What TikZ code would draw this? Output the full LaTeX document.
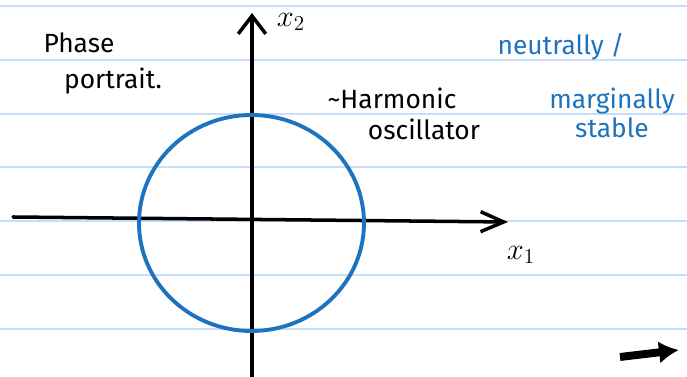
\documentclass[tikz,border=0pt]{standalone}
\usepackage{fontspec}
\setmainfont{Fira Sans}
\usetikzlibrary{arrows.meta}

\definecolor{penblue}{RGB}{30,115,190}
\definecolor{ruleblue}{RGB}{200,221,250}

\begin{document}
\begin{tikzpicture}[
    x=0.02cm, y=-0.02cm,
    ink/.style={line width=2pt, black, line cap=round},
    orbit/.style={line width=2.2pt, draw=penblue},
    rule/.style={line width=1.1pt, draw=ruleblue},
    note/.style={font=\fontsize{15}{17}\selectfont, inner sep=0pt},
    bluenote/.style={note, text=penblue},
    axlabel/.style={font=\fontsize{18}{20}\selectfont, inner sep=0pt}
  ]
  \useasboundingbox (0,0) rectangle (687,377);

  % Ruled paper
  \foreach \ry in {6,60,114,167,221,275,329}
    \draw[rule] (0,\ry) -- (687,\ry);

  % Axes
  \coordinate (xstart) at (13,217);
  \coordinate (xend) at (508,222);
  \coordinate (ystart) at (252,377);
  \coordinate (yend) at (252,13);
  \draw[ink, -{Straight Barb[length=0.46cm, width=0.4cm, line width=2pt]}] (xstart) -- (xend);
  \draw[ink, -{Straight Barb[length=0.36cm, width=0.55cm, line width=2pt]}] (ystart) -- (yend);
  \node[axlabel] (xone) at (521,255) {$x_1$};
  \node[axlabel] (xtwo) at (291,22) {$x_2$};

  % Closed orbit
  \draw[orbit] (251.5,223) ellipse (112.5 and 108);

  % Notes
  \node[note] (phase) at (79,43) {Phase};
  \node[note] (portrait) at (113,81) {portrait.};
  \node[note] (harm) at (392,98) {\textasciitilde Harmonic};
  \node[note] (osc) at (424,129) {oscillator};
  \node[bluenote] (neutral) at (561,47) {neutrally /};
  \node[bluenote] (marginal) at (612,101) {marginally};
  \node[bluenote] (stable) at (612,128) {stable};

  % Next-page arrow
  \coordinate (nstart) at (620,357);
  \coordinate (nend) at (679,350);
  \draw[line width=4.5pt, -{Latex[length=0.4cm, width=0.45cm]}] (nstart) -- (nend);
\end{tikzpicture}
\end{document}
